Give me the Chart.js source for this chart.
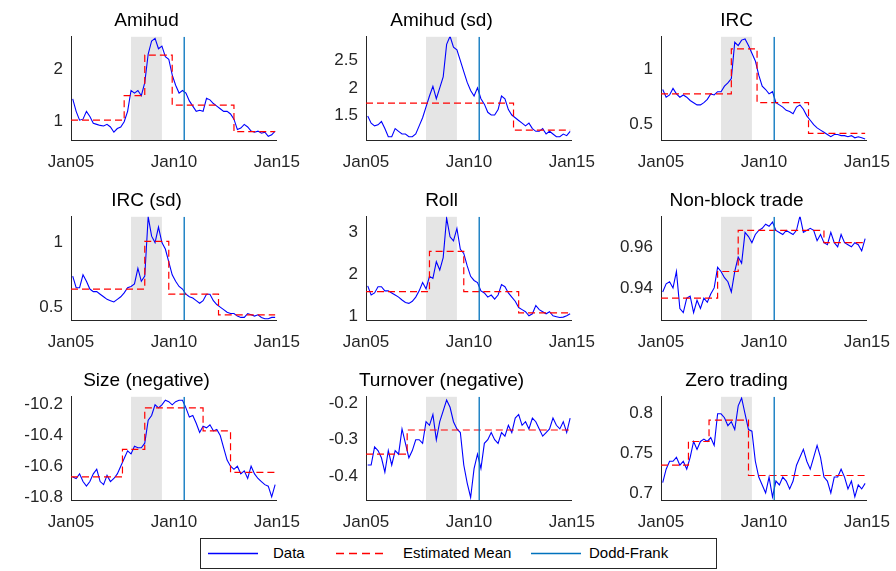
<!DOCTYPE html>
<html>
<head>
<meta charset="utf-8">
<script src="https://cdn.jsdelivr.net/npm/chart.js@4/dist/chart.umd.min.js"></script>
<style>
body { margin:0; background:#fff; width:896px; height:571px; position:relative; overflow:hidden; font-family:"Liberation Sans", Arial, sans-serif; }
.panel { position:absolute; }
#legend { position:absolute; left:200px; top:538px; width:517px; height:31px; border:1px solid #262626; box-sizing:border-box; font-size:15px; color:#000; }
#legend svg { position:absolute; left:0; top:0; }
#legend span.t { position:absolute; top:5px; }
</style>
</head>
<body>
<div class="panel"><canvas id="c0"></canvas></div>
<div class="panel"><canvas id="c1"></canvas></div>
<div class="panel"><canvas id="c2"></canvas></div>
<div class="panel"><canvas id="c3"></canvas></div>
<div class="panel"><canvas id="c4"></canvas></div>
<div class="panel"><canvas id="c5"></canvas></div>
<div class="panel"><canvas id="c6"></canvas></div>
<div class="panel"><canvas id="c7"></canvas></div>
<div class="panel"><canvas id="c8"></canvas></div>
<div id="legend">
  <svg width="515" height="29">
    <line x1="7" y1="14.5" x2="57" y2="14.5" stroke="#0000ff" stroke-width="1.3"/>
    <line x1="135" y1="14.5" x2="185" y2="14.5" stroke="#ff0000" stroke-width="1.3" stroke-dasharray="8,5"/>
    <line x1="330" y1="14.5" x2="380" y2="14.5" stroke="#0072bd" stroke-width="1.3"/>
  </svg>
  <span class="t" style="left:72px">Data</span>
  <span class="t" style="left:202px">Estimated Mean</span>
  <span class="t" style="left:388px">Dodd-Frank</span>
</div>
<script>
// months since Jan05
var months = [1,3,5,7,9,11,13,15,17,19,21,23,25,27,29,31,33,35,37,39,41,43,45,47,49,51,53,55,57,59,
  61,63,65,67,69,71,73,75,77,79,81,83,85,87,89,91,93,95,97,99,101,103,105,107,109,111,113,115,117,119];
var xTickLabels = {0:'Jan05', 60:'Jan10', 120:'Jan15'};
var crisisStart = 35, crisisEnd = 53;
var doddFrank = 66;

var titles = ['Amihud','Amihud (sd)','IRC','IRC (sd)','Roll','Non-block trade','Size (negative)','Turnover (negative)','Zero trading'];

var amihud = [1.44,1.2,1.03,1.05,1.2,1.1,0.97,0.95,0.93,0.92,0.95,0.9,0.8,0.87,0.9,1.0,1.2,1.6,1.55,1.6,1.5,1.75,2.3,2.55,2.6,2.4,2.45,2.25,2.2,1.9,
  1.7,1.55,1.6,1.55,1.4,1.3,1.2,1.22,1.2,1.45,1.42,1.35,1.3,1.25,1.2,1.2,1.15,1.05,0.85,0.88,0.95,0.9,0.82,0.8,0.82,0.78,0.8,0.72,0.75,0.82];
var amihudSd = [1.48,1.35,1.3,1.32,1.38,1.25,1.1,1.1,1.25,1.2,1.15,1.15,1.1,1.1,1.15,1.3,1.45,1.65,1.85,2.03,1.8,2.0,2.2,2.8,2.95,2.75,2.7,2.5,2.3,2.1,
  1.95,1.85,2.0,1.8,1.7,1.55,1.5,1.5,1.6,1.85,1.8,1.6,1.5,1.45,1.4,1.35,1.3,1.35,1.25,1.2,1.2,1.25,1.15,1.2,1.15,1.1,1.1,1.15,1.12,1.2];
var irc = [0.82,0.75,0.77,0.83,0.78,0.75,0.77,0.75,0.72,0.7,0.68,0.68,0.7,0.73,0.78,0.77,0.8,0.8,0.85,0.88,0.92,1.25,1.22,1.27,1.28,1.22,1.15,1.08,0.95,0.85,
  0.82,0.78,0.8,0.7,0.68,0.66,0.63,0.62,0.6,0.66,0.68,0.64,0.58,0.54,0.5,0.47,0.45,0.43,0.41,0.39,0.41,0.41,0.4,0.4,0.39,0.4,0.38,0.39,0.38,0.37];
var ircSd = [0.74,0.65,0.65,0.75,0.7,0.64,0.62,0.62,0.6,0.58,0.56,0.55,0.54,0.56,0.58,0.61,0.65,0.66,0.68,0.8,0.7,0.74,1.2,1.05,1.0,1.12,1.0,0.95,0.85,0.75,
  0.7,0.66,0.64,0.6,0.58,0.57,0.55,0.53,0.55,0.6,0.6,0.55,0.52,0.5,0.48,0.46,0.45,0.45,0.43,0.42,0.42,0.45,0.44,0.43,0.44,0.42,0.41,0.41,0.42,0.42];
var roll = [1.72,1.5,1.55,1.7,1.7,1.6,1.6,1.55,1.5,1.45,1.38,1.32,1.3,1.35,1.45,1.6,1.8,1.65,1.95,1.9,2.3,2.1,2.4,3.35,2.9,2.8,3.1,2.6,2.5,2.2,
  1.95,1.85,1.8,1.6,1.55,1.45,1.5,1.4,1.5,1.75,1.7,1.55,1.45,1.35,1.2,1.15,1.1,1.0,1.05,1.25,1.15,1.1,1.05,1.1,1.0,0.98,0.96,0.97,1.0,1.05];
var nonBlock = [0.938,0.942,0.943,0.94,0.948,0.93,0.928,0.935,0.936,0.928,0.934,0.93,0.935,0.933,0.937,0.94,0.95,0.948,0.945,0.943,0.938,0.948,0.955,0.952,0.967,0.965,0.962,0.966,0.968,0.969,
  0.971,0.97,0.972,0.968,0.967,0.966,0.968,0.967,0.966,0.968,0.975,0.967,0.968,0.969,0.968,0.963,0.966,0.962,0.961,0.967,0.962,0.96,0.966,0.962,0.961,0.96,0.962,0.961,0.958,0.964];
var size = [-10.67,-10.68,-10.65,-10.7,-10.73,-10.7,-10.65,-10.62,-10.7,-10.72,-10.66,-10.7,-10.68,-10.65,-10.6,-10.55,-10.5,-10.52,-10.47,-10.48,-10.48,-10.45,-10.3,-10.27,-10.2,-10.22,-10.2,-10.17,-10.18,-10.2,
  -10.18,-10.17,-10.17,-10.22,-10.28,-10.27,-10.32,-10.38,-10.34,-10.35,-10.33,-10.37,-10.36,-10.4,-10.48,-10.56,-10.6,-10.62,-10.6,-10.65,-10.63,-10.68,-10.6,-10.65,-10.68,-10.7,-10.72,-10.73,-10.8,-10.72];
var turnover = [-0.37,-0.37,-0.32,-0.33,-0.35,-0.39,-0.33,-0.37,-0.33,-0.34,-0.27,-0.31,-0.35,-0.33,-0.3,-0.3,-0.31,-0.25,-0.26,-0.23,-0.3,-0.25,-0.22,-0.19,-0.21,-0.25,-0.27,-0.28,-0.37,-0.42,
  -0.46,-0.38,-0.34,-0.38,-0.31,-0.3,-0.28,-0.3,-0.31,-0.28,-0.29,-0.26,-0.28,-0.24,-0.23,-0.26,-0.25,-0.27,-0.24,-0.25,-0.27,-0.29,-0.28,-0.27,-0.24,-0.26,-0.27,-0.25,-0.28,-0.24];
var zero = [0.713,0.73,0.74,0.74,0.745,0.735,0.74,0.73,0.745,0.765,0.755,0.765,0.768,0.765,0.77,0.76,0.8,0.8,0.795,0.785,0.79,0.78,0.81,0.82,0.8,0.78,0.778,0.74,0.72,0.71,
  0.7,0.72,0.695,0.715,0.71,0.72,0.715,0.705,0.715,0.735,0.745,0.755,0.74,0.73,0.745,0.76,0.745,0.72,0.715,0.7,0.72,0.72,0.73,0.72,0.705,0.715,0.695,0.71,0.705,0.712];
var series = [amihud, amihudSd, irc, ircSd, roll, nonBlock, size, turnover, zero];

// estimated mean regimes: start month of each level (last entry = end), and the levels
var meanStarts = [[0,31,43,59,95,120],[0,86,120],[0,41,56,86,120],[0,43,57,86,120],[0,37,57,89,120],
  [0,33,45,95,120],[0,30,43,77,93,120],[0,24,120],[0,16,28,51,120]];
var meanLevels = [[1.03,1.5,2.28,1.32,0.81],[1.72,1.22],[0.78,1.19,0.70,0.42],[0.64,1.01,0.60,0.44],[1.58,2.55,1.58,1.07],
  [0.935,0.948,0.968,0.962],[-10.67,-10.49,-10.22,-10.37,-10.64],[-0.34,-0.273],[0.735,0.765,0.792,0.722]];

var yRanges = [[0.65,2.63],[1.04,2.94],[0.36,1.3],[0.40,1.2],[0.9,3.38],[0.9244,0.9746],[-10.82,-10.148],[-0.467,-0.181],[0.691,0.8215]];
var yTicks = [[1,2],[1.5,2,2.5],[0.5,1],[0.5,1],[1,2,3],[0.94,0.96],[-10.8,-10.6,-10.4,-10.2],[-0.4,-0.3,-0.2],[0.7,0.75,0.8]];

var plotLefts = [71, 366, 661];
var plotTops = [37, 217, 397];
var plotW = 205, plotH = 103;
var yAxisW = 62, padR = 28, extraW = 8, titleH = 33, xAxisH = 34;

var shade = {
  id: 'shade',
  beforeDatasetsDraw(chart) {
    var x = chart.scales.x, a = chart.chartArea, ctx = chart.ctx;
    ctx.save();
    ctx.fillStyle = '#e5e5e5';
    ctx.fillRect(x.getPixelForValue(crisisStart), a.top, x.getPixelForValue(crisisEnd) - x.getPixelForValue(crisisStart), a.bottom - a.top);
    ctx.restore();
  }
};

titles.forEach(function (title, i) {
  var col = i % 3, row = Math.floor(i / 3);
  var div = document.getElementById('c' + i).parentNode;
  div.style.left = (plotLefts[col] - yAxisW) + 'px';
  div.style.top = (plotTops[row] - titleH) + 'px';
  div.style.width = (plotW + yAxisW + padR + extraW) + 'px';
  div.style.height = (plotH + titleH + xAxisH) + 'px';

  var pts = months.map(function (m, k) { return {x: m, y: series[i][k]}; });
  var mean = meanLevels[i].map(function (v, k) { return {x: meanStarts[i][k], y: v}; });
  mean.push({x: meanStarts[i][meanStarts[i].length - 1] - 1, y: meanLevels[i][meanLevels[i].length - 1]});
  var yr = yRanges[i];

  new Chart(document.getElementById('c' + i), {
    type: 'line',
    data: {
      datasets: [
        {label: 'Dodd-Frank', data: [{x: doddFrank, y: yr[0]}, {x: doddFrank, y: yr[1]}], borderColor: '#0072bd', borderWidth: 1.3, pointRadius: 0},
        {label: 'Estimated Mean', data: mean, stepped: 'before', borderColor: '#ff0000', borderDash: [7, 4], borderWidth: 1.2, pointRadius: 0},
        {label: 'Data', data: pts, borderColor: '#0000ff', borderWidth: 1.1, pointRadius: 0, tension: 0}
      ]
    },
    options: {
      responsive: true, maintainAspectRatio: false, animation: false,
      layout: {padding: {left: 0, right: padR, top: 0, bottom: 0}},
      plugins: {
        legend: {display: false}, tooltip: {enabled: false},
        title: {display: true, text: title, color: '#000', font: {family: 'Liberation Sans', size: 19, weight: 'normal'}, padding: {top: 5, bottom: 5}}
      },
      scales: {
        x: {
          type: 'linear', min: 0, max: 120,
          afterBuildTicks: function (s) { s.ticks = [{value: 0}, {value: 60}, {value: 120}]; },
          afterFit: function (s) { s.height = xAxisH; },
          grid: {display: false, drawTicks: false},
          border: {display: true, color: '#262626', width: 1},
          ticks: {maxRotation: 0, autoSkip: false, padding: 12, color: '#262626', font: {family: 'Liberation Sans', size: 17},
            callback: function (v) { return xTickLabels[v]; }}
        },
        y: {
          min: yr[0], max: yr[1],
          afterBuildTicks: function (s) { s.ticks = yTicks[i].map(function (v) { return {value: v}; }); },
          afterFit: function (s) { s.width = yAxisW; },
          grid: {display: false, drawTicks: false},
          border: {display: true, color: '#262626', width: 1},
          ticks: {padding: 8, color: '#262626', font: {family: 'Liberation Sans', size: 17},
            callback: function (v) { return String(v); }}
        }
      }
    },
    plugins: [shade]
  });
});
</script>
</body>
</html>
